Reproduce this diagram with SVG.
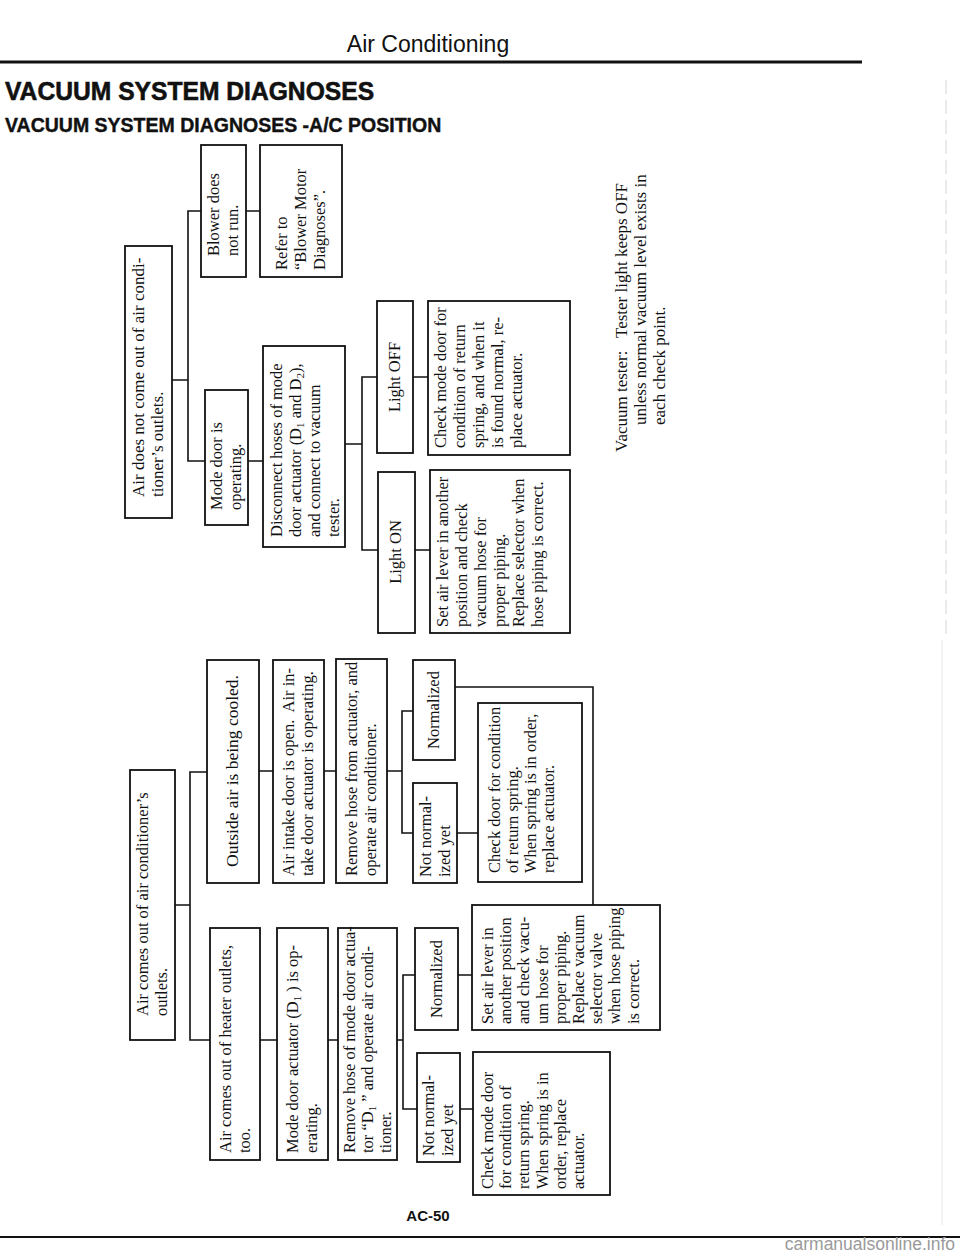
<svg xmlns="http://www.w3.org/2000/svg" width="960" height="1257" viewBox="0 0 960 1257">
<style>
.box{fill:#fff;stroke:#111;stroke-width:1.8}
.c{fill:none;stroke:#111;stroke-width:1.6}
.t{font-family:"Liberation Serif","Times New Roman",serif;font-size:16.5px;fill:#111}
.m{text-anchor:middle}
.h{font-family:"Liberation Sans",Arial,sans-serif;fill:#111}
</style>
<rect width="960" height="1257" fill="#fff"/>
<g id="header">
<text class="h" x="428" y="52" font-size="23" text-anchor="middle">Air Conditioning</text>
<line x1="0" y1="62" x2="862" y2="62" stroke="#111" stroke-width="3"/>
<text class="h" transform="translate(5,100) scale(0.93,1)" font-size="26.5" font-weight="bold" stroke="#111" stroke-width="0.6">VACUUM SYSTEM DIAGNOSES</text>
<text class="h" x="5" y="132" font-size="19.5" font-weight="bold" stroke="#111" stroke-width="0.4">VACUUM SYSTEM DIAGNOSES -A/C POSITION</text>
<line x1="946" y1="80" x2="946" y2="640" stroke="#d4d4d4" stroke-width="1" stroke-dasharray="14 6"/>
<line x1="942" y1="640" x2="942" y2="1225" stroke="#e6e6e6" stroke-width="1"/>
</g>
<g id="connectors">
<path class="c" d="M172,380 H188 M201,211 H188 V461 H205 M246,211 H260 M248,461 H263 M345,444 H362 M377,377 H362 V550 H378 M413,377 H428 M415,550 H430"/>
<path class="c" d="M175,905 H190 M207,772 H190 V1040 H210 M259,771 H273 M324,771 H336 M387,771 H402 M413,711 H402 V833 H413 M455,687 H593 V905 M457,833 H478"/>
<path class="c" d="M260,1040 H277 M328,1040 H338 M397,1040 H403 M415,975 H403 V1109 H417 M458,975 H472 M460,1109 H473"/>
</g>
<g id="n-air-not-come">
<rect class="box" x="125" y="246" width="47" height="272"/>
<text class="t" font-size="17" transform="translate(144,497) rotate(-90)" style="font-size:17px">Air does not come out of air condi-</text>
<text class="t" transform="translate(163,497) rotate(-90)" style="font-size:17px">tioner’s outlets.</text>
</g>
<g id="n-blower">
<rect class="box" x="201" y="145" width="45" height="132"/>
<text class="t" transform="translate(219,256) rotate(-90)">Blower does</text>
<text class="t" transform="translate(238,256) rotate(-90)">not run.</text>
</g>
<g id="n-refer">
<rect class="box" x="260" y="145" width="82" height="132"/>
<text class="t" transform="translate(287,270) rotate(-90)">Refer to</text>
<text class="t" transform="translate(306,270) rotate(-90)">“Blower Motor</text>
<text class="t" transform="translate(325,270) rotate(-90)">Diagnoses”.</text>
</g>
<g id="n-mode-door-op">
<rect class="box" x="205" y="390" width="43" height="135"/>
<text class="t" transform="translate(222,510) rotate(-90)">Mode door is</text>
<text class="t" transform="translate(241,510) rotate(-90)">operating.</text>
</g>
<g id="n-disconnect">
<rect class="box" x="263" y="346" width="82" height="201"/>
<text class="t" transform="translate(282,537) rotate(-90)">Disconnect hoses of mode</text>
<text class="t" transform="translate(301,537) rotate(-90)">door actuator (D<tspan font-size="11" dy="3">1</tspan><tspan dy="-3"> and D</tspan><tspan font-size="11" dy="3">2</tspan><tspan dy="-3">),</tspan></text>
<text class="t" transform="translate(320,537) rotate(-90)">and connect to vacuum</text>
<text class="t" transform="translate(339,537) rotate(-90)">tester.</text>
</g>
<g id="n-light-off">
<rect class="box" x="377" y="301" width="36" height="152"/>
<text class="t m" transform="translate(400,377) rotate(-90)">Light OFF</text>
</g>
<g id="n-light-on">
<rect class="box" x="378" y="472" width="37" height="161"/>
<text class="t m" transform="translate(401,552) rotate(-90)">Light ON</text>
</g>
<g id="n-check-mode-top">
<rect class="box" x="428" y="301" width="142" height="154"/>
<text class="t" transform="translate(446,448) rotate(-90)">Check mode door for</text>
<text class="t" transform="translate(465,448) rotate(-90)">condition of return</text>
<text class="t" transform="translate(484,448) rotate(-90)">spring, and when it</text>
<text class="t" transform="translate(503,448) rotate(-90)">is found normal, re-</text>
<text class="t" transform="translate(522,448) rotate(-90)">place actuator.</text>
</g>
<g id="n-set-air-top">
<rect class="box" x="430" y="470" width="140" height="163"/>
<text class="t" transform="translate(448,627) rotate(-90)">Set air lever in another</text>
<text class="t" transform="translate(467,627) rotate(-90)">position and check</text>
<text class="t" transform="translate(486,627) rotate(-90)">vacuum hose for</text>
<text class="t" transform="translate(505,627) rotate(-90)">proper piping.</text>
<text class="t" transform="translate(524,627) rotate(-90)">Replace selector when</text>
<text class="t" transform="translate(543,627) rotate(-90)">hose piping is correct.</text>
</g>
<g id="n-note">
<text class="t" transform="translate(627,452) rotate(-90)" style="font-size:17px" xml:space="preserve">Vacuum tester:   Tester light keeps OFF</text>
<text class="t" transform="translate(646,425) rotate(-90)" style="font-size:17px">unless normal vacuum level exists in</text>
<text class="t" transform="translate(665,425) rotate(-90)" style="font-size:17px">each check point.</text>
</g>
<g id="n-air-comes">
<rect class="box" x="130" y="770" width="45" height="270"/>
<text class="t" transform="translate(148,1016) rotate(-90)">Air comes out of air conditioner’s</text>
<text class="t" transform="translate(167,1016) rotate(-90)">outlets.</text>
</g>
<g id="n-outside">
<rect class="box" x="207" y="660" width="52" height="223"/>
<text class="t m" transform="translate(238,771) rotate(-90)" style="font-size:17.5px">Outside air is being cooled.</text>
</g>
<g id="n-intake">
<rect class="box" x="273" y="660" width="51" height="223"/>
<text class="t" transform="translate(294,876) rotate(-90)">Air intake door is open.&#160; Air in-</text>
<text class="t" transform="translate(313,876) rotate(-90)">take door actuator is operating.</text>
</g>
<g id="n-remove-hose-u">
<rect class="box" x="336" y="659" width="51" height="224"/>
<text class="t" transform="translate(357,876) rotate(-90)">Remove hose from actuator, and</text>
<text class="t" transform="translate(376,876) rotate(-90)">operate air conditioner.</text>
</g>
<g id="n-normalized-u">
<rect class="box" x="413" y="660" width="42" height="100"/>
<text class="t m" transform="translate(439,710) rotate(-90)">Normalized</text>
</g>
<g id="n-not-normalized-u">
<rect class="box" x="413" y="783" width="44" height="100"/>
<text class="t" transform="translate(431,877) rotate(-90)">Not normal-</text>
<text class="t" transform="translate(450,877) rotate(-90)">ized yet</text>
</g>
<g id="n-check-door-u">
<rect class="box" x="478" y="703" width="104" height="179"/>
<text class="t" transform="translate(500,873) rotate(-90)">Check door for condition</text>
<text class="t" transform="translate(518,873) rotate(-90)">of return spring.</text>
<text class="t" transform="translate(536,873) rotate(-90)">When spring is in order,</text>
<text class="t" transform="translate(554,873) rotate(-90)">replace actuator.</text>
</g>
<g id="n-heater">
<rect class="box" x="210" y="928" width="50" height="232"/>
<text class="t" transform="translate(231,1153) rotate(-90)">Air comes out of heater outlets,</text>
<text class="t" transform="translate(250,1153) rotate(-90)">too.</text>
</g>
<g id="n-mode-actuator">
<rect class="box" x="277" y="928" width="51" height="232"/>
<text class="t" transform="translate(298,1153) rotate(-90)">Mode door actuator (D<tspan font-size="11" dy="3">1</tspan><tspan dy="-3"> ) is op-</tspan></text>
<text class="t" transform="translate(317,1153) rotate(-90)">erating.</text>
</g>
<g id="n-remove-hose-l">
<rect class="box" x="338" y="928" width="59" height="232"/>
<text class="t" transform="translate(355,1153) rotate(-90)">Remove hose of mode door actua-</text>
<text class="t" transform="translate(373,1153) rotate(-90)">tor “D<tspan font-size="11" dy="3">1</tspan><tspan dy="-3"> ” and operate air condi-</tspan></text>
<text class="t" transform="translate(391,1153) rotate(-90)">tioner.</text>
</g>
<g id="n-normalized-l">
<rect class="box" x="415" y="928" width="43" height="102"/>
<text class="t m" transform="translate(442,979) rotate(-90)">Normalized</text>
</g>
<g id="n-not-normalized-l">
<rect class="box" x="417" y="1053" width="43" height="109"/>
<text class="t" transform="translate(434,1156) rotate(-90)">Not normal-</text>
<text class="t" transform="translate(453,1156) rotate(-90)">ized yet</text>
</g>
<g id="n-set-air-l">
<rect class="box" x="472" y="905" width="188" height="125"/>
<text class="t" transform="translate(493,1024) rotate(-90)">Set air lever in</text>
<text class="t" transform="translate(511,1024) rotate(-90)">another position</text>
<text class="t" transform="translate(529,1024) rotate(-90)">and check vacu-</text>
<text class="t" transform="translate(548,1024) rotate(-90)">um hose for</text>
<text class="t" transform="translate(566,1024) rotate(-90)">proper piping.</text>
<text class="t" transform="translate(584,1024) rotate(-90)">Replace vacuum</text>
<text class="t" transform="translate(602,1024) rotate(-90)">selector valve</text>
<text class="t" transform="translate(620,1024) rotate(-90)">when hose piping</text>
<text class="t" transform="translate(639,1024) rotate(-90)">is correct.</text>
</g>
<g id="n-check-mode-l">
<rect class="box" x="473" y="1052" width="137" height="143"/>
<text class="t" transform="translate(493,1189) rotate(-90)">Check mode door</text>
<text class="t" transform="translate(511,1189) rotate(-90)">for condition of</text>
<text class="t" transform="translate(529,1189) rotate(-90)">return spring.</text>
<text class="t" transform="translate(548,1189) rotate(-90)">When spring is in</text>
<text class="t" transform="translate(566,1189) rotate(-90)">order, replace</text>
<text class="t" transform="translate(584,1189) rotate(-90)">actuator.</text>
</g>
<g id="footer">
<text class="h" x="428" y="1221" font-size="15" font-weight="bold" text-anchor="middle">AC-50</text>
<line x1="0" y1="1237" x2="960" y2="1237" stroke="#111" stroke-width="2"/>
<text class="h" x="955" y="1250" font-size="17.5" text-anchor="end" style="fill:#9a9a9a">carmanualsonline.info</text>
</g>
</svg>
